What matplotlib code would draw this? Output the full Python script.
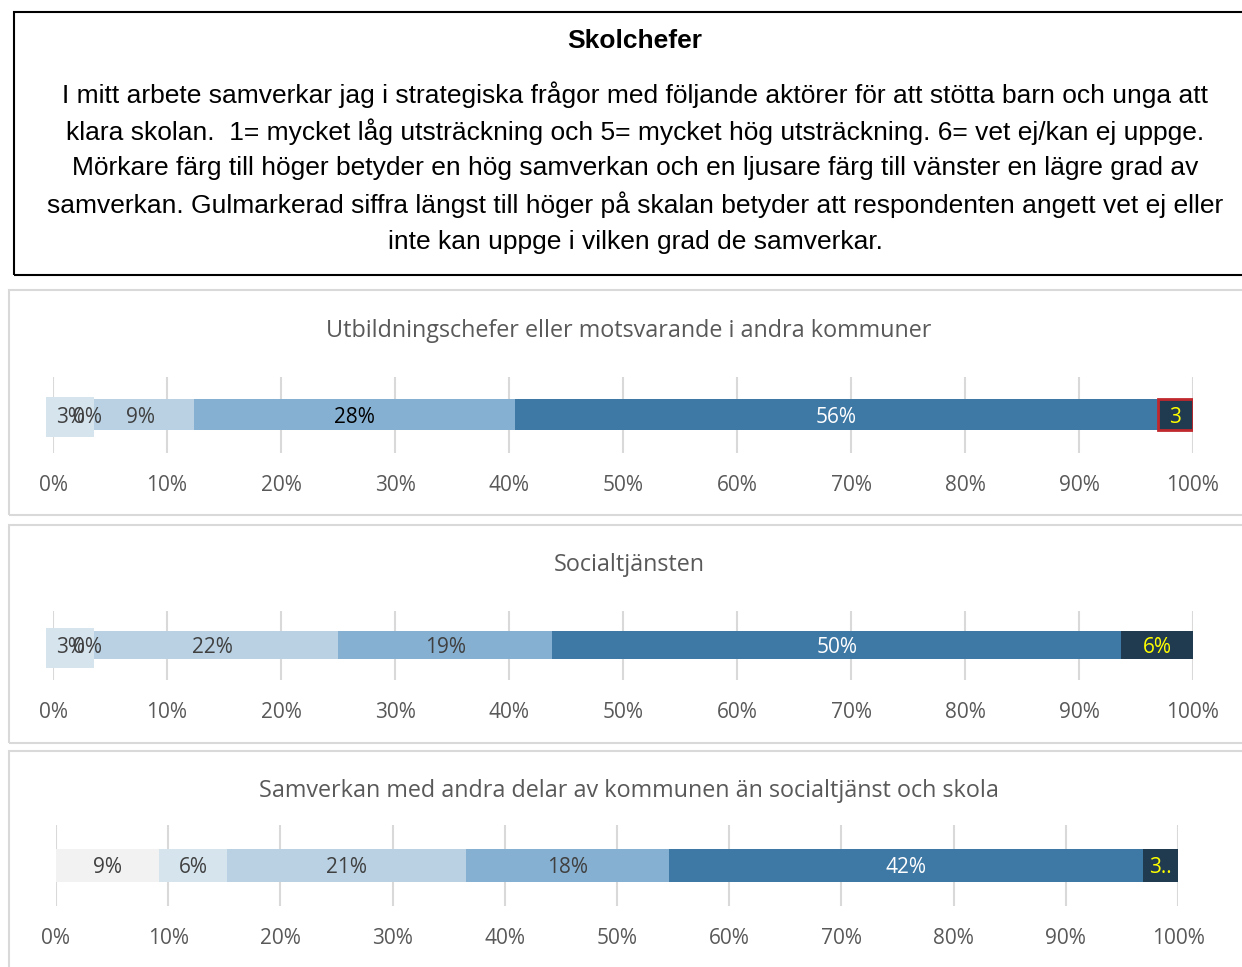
import matplotlib
matplotlib.use('Agg')
import matplotlib.pyplot as plt
from matplotlib.patches import Rectangle

# data (share in % per answer 1-6)
svar = ['1', '2', '3', '4', '5', '6']
utb_varden = [3.0, 0.0, 9.4, 28.1, 56.4, 3.1]
utb_etiketter = ['3%', '0%', '9%', '28%', '56%', '3']
soc_varden = [3.0, 0.0, 22.0, 18.8, 49.9, 6.3]
soc_etiketter = ['3%', '0%', '22%', '19%', '50%', '6%']
ovr_varden = [9.2, 6.0, 21.3, 18.1, 42.3, 3.1]
ovr_etiketter = ['9%', '6%', '21%', '18%', '42%', '3..']

titlar = ['Utbildningschefer eller motsvarande i andra kommuner',
          'Socialtjänsten',
          'Samverkan med andra delar av kommunen än socialtjänst och skola']

rubrik = 'Skolchefer'
brodtext = [
    'I mitt arbete samverkar jag i strategiska frågor med följande aktörer för att stötta barn och unga att',
    'klara skolan.  1= mycket låg utsträckning och 5= mycket hög utsträckning. 6= vet ej/kan ej uppge.',
    'Mörkare färg till höger betyder en hög samverkan och en ljusare färg till vänster en lägre grad av',
    'samverkan. Gulmarkerad siffra längst till höger på skalan betyder att respondenten angett vet ej eller',
    'inte kan uppge i vilken grad de samverkar.',
]

farger = ['#f2f2f2', '#d6e4ee', '#b9d1e3', '#86b0d2', '#3e78a5', '#203a50']
W, H = 1242, 967
GRA = '#595959'
CHART_FONT = 'Open Sans'


def px_rect(x0, x1, y0, y1):
    return [x0 / W, 1 - y1 / H, (x1 - x0) / W, (y1 - y0) / H]


def ram(fig, x0, y0, x1, y1, farg, lw):
    r = Rectangle((x0 / W, 1 - y1 / H), (x1 - x0) / W, (y1 - y0) / H,
                  transform=fig.transFigure, fill=False, edgecolor=farg,
                  linewidth=lw)
    fig.patches.append(r)


def stapel(ax, varden, etiketter, textfarger, markerad_sista=False, box_forsta=False):
    vanster = 0
    for i, v in enumerate(varden):
        kant = '#c0282d' if (markerad_sista and i == len(varden) - 1) else 'none'
        ax.barh(0, v, left=vanster, height=1, color=farger[i],
                edgecolor=kant, linewidth=2 if kant != 'none' else 0, zorder=2)
        kw = dict(ha='center', va='center_baseline', fontsize=15, family=CHART_FONT,
                  color=textfarger[i], zorder=4, clip_on=False)
        if box_forsta and i == 0:
            kw['bbox'] = dict(boxstyle='square,pad=0.45', facecolor=farger[1],
                              edgecolor='none')
        ax.text(vanster + v / 2, 0, etiketter[i], **kw)
        vanster += v
    ax.set_xlim(0, 100)
    ax.set_ylim(-1.24, 1.22)
    ax.set_xticks(range(0, 101, 10))
    ax.set_xticklabels([f'{t}%' for t in range(0, 101, 10)],
                       fontsize=15, family=CHART_FONT, color=GRA)
    ax.set_yticks([])
    ax.tick_params(axis='x', length=0, pad=16)
    ax.grid(axis='x', color='#d9d9d9', linewidth=1.5, zorder=0)
    ax.set_axisbelow(True)
    for s in ax.spines.values():
        s.set_visible(False)
    ax.patch.set_alpha(0)


fig = plt.figure(figsize=(W / 100, H / 100), dpi=100)

# text box at top
ram(fig, 14, 12, 1262, 275, 'black', 1.5)
fig.text(635 / W, 1 - 39 / H, rubrik, ha='center', va='center_baseline',
         fontsize=19, fontweight='bold', family='Liberation Sans')
for i, rad in enumerate(brodtext):
    fig.text(635 / W, 1 - (92 + 36.8 * i) / H, rad, ha='center', va='center_baseline',
             fontsize=19, family='Liberation Sans')

# chart panels
ram(fig, 9, 290, 1260, 515, '#d9d9d9', 1.5)
ram(fig, 9, 525, 1260, 743, '#d9d9d9', 1.5)
ram(fig, 9, 751, 1260, 990, '#d9d9d9', 1.5)

ax1 = fig.add_axes(px_rect(53, 1193, 377, 453))
stapel(ax1, utb_varden, utb_etiketter,
       ['#404040', '#404040', '#404040', 'black', 'white', '#ffff00'],
       markerad_sista=True, box_forsta=True)
ax2 = fig.add_axes(px_rect(53, 1193, 611, 680))
stapel(ax2, soc_varden, soc_etiketter,
       ['#404040', '#404040', '#404040', '#404040', 'white', '#ffff00'],
       box_forsta=True)
ax3 = fig.add_axes(px_rect(56, 1178, 825, 906))
stapel(ax3, ovr_varden, ovr_etiketter,
       ['#404040', '#404040', '#404040', '#404040', 'white', '#ffff00'])

for titel, y in zip(titlar, [328, 562, 788]):
    fig.text(629 / W, 1 - y / H, titel, ha='center', va='center_baseline',
             fontsize=16.8, family=CHART_FONT, color=GRA)

fig.savefig('out.png', dpi=100)
